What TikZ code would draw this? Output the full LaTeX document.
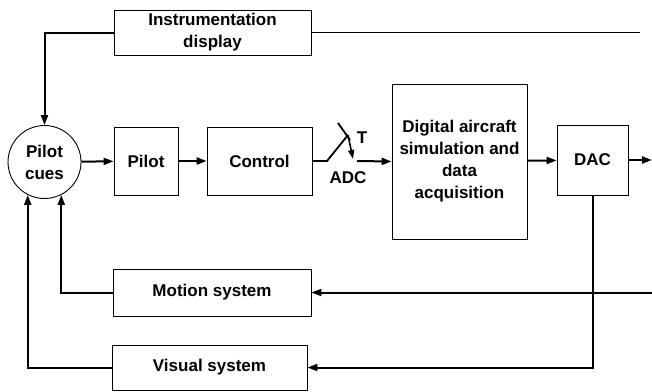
\documentclass[tikz,border=0pt]{standalone}
\usepackage{fontspec}
\setmainfont{Liberation Sans}
\usetikzlibrary{positioning,shapes,arrows.meta}
\tikzstyle{blok} = [rectangle, draw=black, line width=0.8pt, align=center, inner sep=0pt]
\tikzstyle{cuecircle} = [circle, draw=black, line width=0.9pt, align=center, inner sep=0pt, minimum size=73pt]
\tikzstyle{connect} = [line width=2pt, -{Triangle[length=10pt,width=7pt]}]
\tikzstyle{plain} = [line width=1.8pt]

\begin{document}
\begin{tikzpicture}[x=1pt,y=-1pt,font=\fontsize{17}{22}\selectfont\bfseries]
			\useasboundingbox (0,0) rectangle (652,391);
			\node (cues) [cuecircle] at (44.5,162) {Pilot\\cues};
			\node (pilot) [blok,minimum width=64pt,minimum height=68pt] at (146,161) {Pilot};
			\node (control) [blok,minimum width=105pt,minimum height=68pt] at (259.5,161) {Control};
			\node (instr) [blok,minimum width=197pt,minimum height=45pt] at (212.5,32.5) {Instrumentation\\display};
			\node (digital) [blok,minimum width=135pt,minimum height=155pt] at (459.5,161.5) {Digital aircraft\\simulation and\\data\\acquisition};
			\node (dac) [blok,minimum width=71pt,minimum height=70pt] at (592.5,160) {DAC};
			\node (motion) [blok,minimum width=198pt,minimum height=47pt] at (212,292.5) {Motion system};
			\node (visual) [blok,minimum width=195pt,minimum height=45pt] at (209.5,367.5) {Visual system};

			% sampling switch
			\coordinate (swa) at (327,161);
			\coordinate (swb) at (348,135);
			\coordinate (swc) at (357,161);
			\node (adc) at (348,178) {ADC};
			\node (tlab) at (362,138) {T};

			% free ends at the right edge
			\coordinate (instrin) at (640,32.5);
			\coordinate (motin) at (652,292.5);
			\coordinate (out) at (652,160);

			\draw [connect] (cues) -- (pilot);
			\draw [connect] (pilot) -- (control);
			\draw [plain] (control.east) -- (swa) -- (swb);
			\draw [plain] (338,123) -- (350,140);
			\draw [line width=1.6pt,-{Triangle[length=9pt,width=6pt]}] (swb) -- (353,159);
			\draw [connect] (swc) -- (digital.west);
			\draw [connect] (digital) -- (dac);
			\draw [connect] (dac) -- (out);
			\draw [plain] (instrin) -- (instr.east);
			\draw [connect] (instr.west) -| (cues.north);
			\draw [connect] (motin) -- (motion.east);
			\draw [connect] (dac.south) |- (visual.east);
			\draw [connect] (motion.west) -| (cues.-63);
			\draw [connect] (visual.west) -| (cues.-117);
			\end{tikzpicture}
\end{document}
